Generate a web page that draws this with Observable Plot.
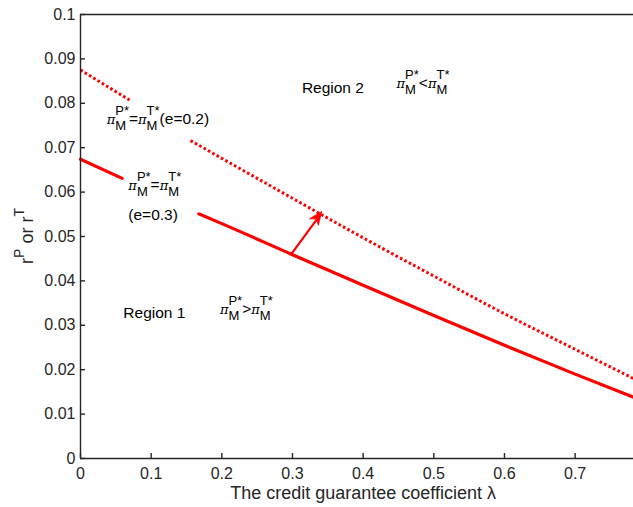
<!DOCTYPE html>
<html><head><meta charset="utf-8">
<script src="https://cdn.jsdelivr.net/npm/d3@7"></script>
<script src="https://cdn.jsdelivr.net/npm/@observablehq/plot@0.6"></script>
<style>html,body{margin:0;padding:0;background:#fff;overflow:hidden} svg{display:block}</style>
</head><body><div id="chart"></div>
<script>
// ---- data ----
const lambdaE2 = [0, 0.0708, NaN, 0.1557, 0.2, 0.3, 0.4, 0.5, 0.6, 0.7, 0.7826];
const rE2      = [0.0875, 0.0806, NaN, 0.0716, 0.0676, 0.0586, 0.0497, 0.0411, 0.0326, 0.0246, 0.0180];
const lambdaE3 = [0, 0.059, NaN, 0.1674, 0.2, 0.3, 0.4, 0.5, 0.6, 0.7, 0.7826];
const rE3      = [0.0674, 0.0631, NaN, 0.0551, 0.0529, 0.0459, 0.0390, 0.0322, 0.0255, 0.0190, 0.0138];
const xTicks = [0, 0.1, 0.2, 0.3, 0.4, 0.5, 0.6, 0.7];
const yTicks = [0, 0.01, 0.02, 0.03, 0.04, 0.05, 0.06, 0.07, 0.08, 0.09, 0.1];
const xDomain = [0, 0.7826];
const yDomain = [0, 0.1];
const arrowLambda = [0.2986, 0.342];
const arrowR = [0.0461, 0.0555];
const xLabel = "The credit guarantee coefficient λ";

const e2 = lambdaE2.map((l, i) => ({lambda: l, r: rE2[i]}));
const e3 = lambdaE3.map((l, i) => ({lambda: l, r: rE3[i]}));
const arrows = [{x1: arrowLambda[0], y1: arrowR[0], x2: arrowLambda[1], y2: arrowR[1]}];

const FONT = "'Liberation Sans', Arial, Helvetica, sans-serif";
const AX = "#262626";
const RED = "#ff0000";

const plot = Plot.plot({
  width: 633, height: 507,
  marginLeft: 80, marginRight: 0, marginTop: 14, marginBottom: 49,
  x: {domain: xDomain}, y: {domain: yDomain},
  style: {fontFamily: FONT, background: "#fff", color: AX, overflow: "visible"},
  marks: [
    Plot.line(e3, {x: "lambda", y: "r", stroke: RED, strokeWidth: 3.2, curve: "monotone-x"}),
    Plot.line(e2, {x: "lambda", y: "r", stroke: RED, strokeWidth: 3, strokeDasharray: "2.6,2.4", strokeLinecap: "butt", curve: "monotone-x"}),
    Plot.arrow(arrows, {x1: "x1", y1: "y1", x2: "x2", y2: "y2", stroke: RED, strokeWidth: 2.2, headLength: 0, insetEnd: 6}),
    Plot.ruleY([yDomain[0]], {stroke: AX, strokeWidth: 1.4}),
    Plot.ruleY([yDomain[1]], {stroke: AX, strokeWidth: 1.4}),
    Plot.ruleX([xDomain[0]], {stroke: AX, strokeWidth: 1.4}),
    Plot.axisX({ticks: xTicks, tickSize: 5, dy: -5, tickFormat: () => "", label: null, stroke: AX, strokeWidth: 1.4}),
    Plot.axisX({ticks: xTicks, tickSize: 0, tickPadding: 9, tickFormat: d3.format("~g"), label: null, fontSize: 16, fill: AX}),
    Plot.axisY({ticks: yTicks, tickSize: 5, dx: 5, tickFormat: () => "", label: null, stroke: AX, strokeWidth: 1.4}),
    Plot.axisY({ticks: yTicks, tickSize: 0, tickPadding: 5, tickFormat: d3.format("~g"), label: null, fontSize: 16, fill: AX}),
    Plot.text([xLabel], {x: () => 0.4, frameAnchor: "bottom", dy: 40, text: d => d, fontSize: 18, fill: AX, textAnchor: "middle"})
  ]
});
document.getElementById("chart").appendChild(plot);

const sx = plot.scale("x"), sy = plot.scale("y");
const svg = d3.select(plot);

// filled arrow head at the arrow's end, placed through the scales
{
  const a = arrows[0];
  const X1 = sx.apply(a.x1), Y1 = sy.apply(a.y1), X2 = sx.apply(a.x2), Y2 = sy.apply(a.y2);
  const L = Math.hypot(X2 - X1, Y2 - Y1), ux = (X2 - X1) / L, uy = (Y2 - Y1) / L;
  const hl = 13, hw = 5.5, notch = 9;
  const bx = X2 - ux * hl, by = Y2 - uy * hl;
  const nx = X2 - ux * notch, ny = Y2 - uy * notch;
  const pts = [[X2, Y2], [bx - uy * hw, by + ux * hw], [nx, ny], [bx + uy * hw, by - ux * hw]];
  svg.append("path").attr("d", "M" + pts.map(p => p.join(",")).join("L") + "Z").attr("fill", RED).attr("stroke", RED).attr("stroke-width", 0.8);
}

// rich text with stacked sub/superscripts
function rich(parent, x0, yb, seq, base, fill) {
  const t = parent.append("text").attr("font-family", FONT).attr("fill", fill || "#000").attr("text-anchor", "start");
  let cx = x0;
  for (const s of seq) {
    if (s.stack) {
      const a = t.append("tspan").attr("x", cx).attr("y", yb + 6).attr("font-size", s.size || 13).text(s.sub);
      const b = t.append("tspan").attr("x", cx).attr("y", yb - 9).attr("font-size", s.size || 13).text(s.sup);
      cx += Math.max(a.node().getComputedTextLength(), b.node().getComputedTextLength());
    } else {
      const a = t.append("tspan").attr("x", cx).attr("y", yb + (s.shift || 0)).attr("font-size", s.size || base).text(s.t);
      if (s.font) a.attr("font-family", s.font);
      if (s.italic) a.attr("font-style", "italic");
      cx += a.node().getComputedTextLength();
    }
  }
  return {node: t, width: cx - x0};
}
const PI = {t: "π", font: "'DejaVu Serif', serif", size: 13, italic: true};
const piM = sup => [PI, {stack: true, sub: "M", sup: sup}];

const annotations = [
  {lambda: 0.0378, r: 0.0752, seq: [...piM("P*"), {t: "="}, ...piM("T*"), {t: "(e=0.2)"}]},
  {lambda: 0.0684, r: 0.0604, seq: [...piM("P*"), {t: "="}, ...piM("T*")]},
  {lambda: 0.0684, r: 0.0536, seq: [{t: "(e=0.3)"}]},
  {lambda: 0.314, r: 0.0822, seq: [{t: "Region 2"}]},
  {lambda: 0.448, r: 0.0833, seq: [...piM("P*"), {t: "<"}, ...piM("T*")]},
  {lambda: 0.0613, r: 0.0315, seq: [{t: "Region 1"}]},
  {lambda: 0.198, r: 0.0324, seq: [...piM("P*"), {t: ">"}, ...piM("T*")]}
];
for (const a of annotations) rich(svg, sx.apply(a.lambda), sy.apply(a.r), a.seq, 15.5);

// y-axis label r^P or r^T (rotated)
const g = svg.append("g");
const yl = rich(g, 0, 0, [
  {t: "r", size: 18}, {t: "P", size: 14, shift: -9}, {t: " or r", size: 18}, {t: "T", size: 14, shift: -9}
], 18, AX);
const ymid = (sy.apply(yDomain[0]) + sy.apply(yDomain[1])) / 2;
g.attr("transform", `translate(33,${ymid + yl.width / 2}) rotate(-90)`);
</script>
</body></html>
